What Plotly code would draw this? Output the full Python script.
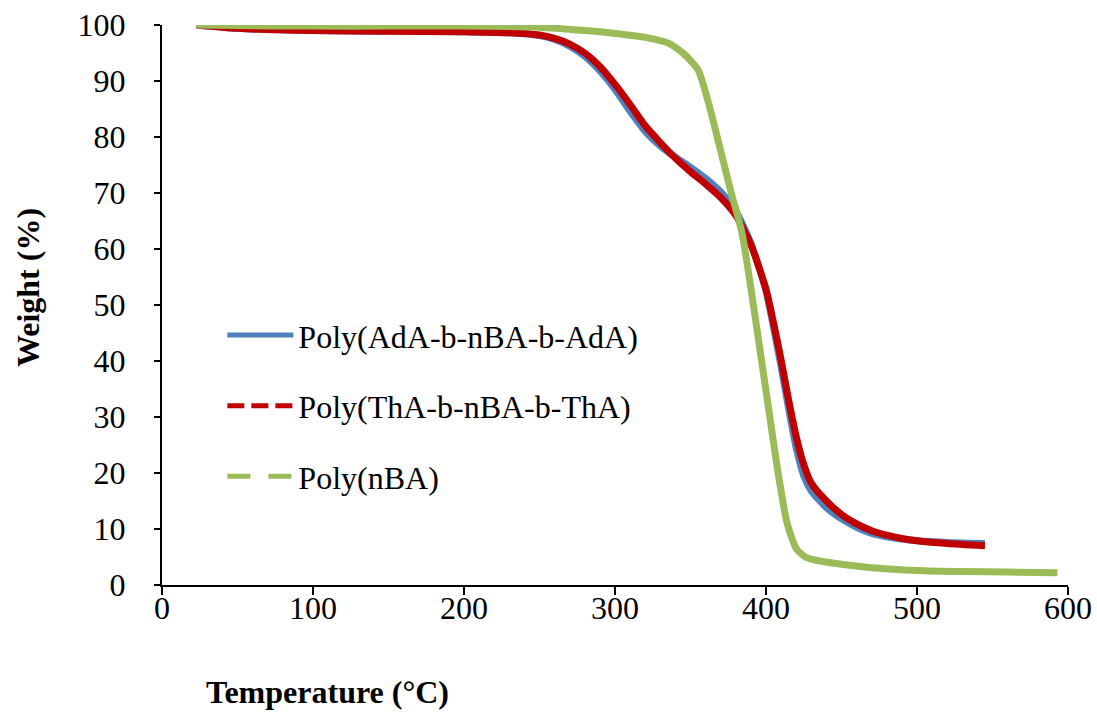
import plotly.graph_objects as go

# ---- data ----
temp_block = [23, 50, 100, 150, 200, 230, 250, 260, 270, 280, 290, 300, 310, 320, 330, 340,
              350, 360, 370, 380, 390, 400, 405, 410, 415, 420, 425, 430, 440, 450, 460,
              470, 480, 490, 500, 520, 545]
weight_ada = [100, 99.4, 99.0, 98.9, 98.8, 98.6, 98.1, 97.4, 96.2, 94.4, 91.8, 88.5, 84.6, 81.0,
              78.4, 76.4, 74.6, 72.6, 70.2, 66.8, 61.0, 52.5, 46.0, 39.0, 31.5, 24.5, 19.5,
              16.8, 13.8, 11.8, 10.3, 9.2, 8.6, 8.2, 7.9, 7.6, 7.4]
weight_tha = [100, 99.4, 99.0, 98.9, 98.8, 98.6, 98.2, 97.6, 96.6, 95.0, 92.6, 89.4, 85.8, 82.0,
              79.0, 76.2, 73.8, 71.6, 69.2, 66.0, 60.8, 52.8, 46.8, 40.2, 33.0, 26.5, 21.5,
              18.2, 15.0, 12.6, 10.9, 9.7, 8.9, 8.3, 7.9, 7.4, 7.0]

temp_nba = [23, 50, 100, 150, 200, 250, 280, 300, 320, 335, 345, 355, 362, 370, 377, 384, 390,
            396, 402, 408, 414, 420, 426, 432, 440, 450, 470, 500, 530, 560, 593]
weight_nba = [100, 99.9, 99.8, 99.8, 99.8, 99.6, 99.0, 98.5, 97.8, 96.8, 95.0, 92.0, 86.0, 77.5,
              70.0, 63.0, 53.0, 42.0, 31.0, 20.0, 11.0, 6.5, 5.0, 4.5, 4.1, 3.7, 3.1, 2.6,
              2.4, 2.3, 2.2]

names = ["Poly(AdA-b-nBA-b-AdA)", "Poly(ThA-b-nBA-b-ThA)", "Poly(nBA)"]
colors = ["#4F81BD", "#C00000", "#9BBB59"]
legend_dash = ["solid", "17px,7px", "23px,18px"]

x_ticks = [0, 100, 200, 300, 400, 500, 600]
y_ticks = [0, 10, 20, 30, 40, 50, 60, 70, 80, 90, 100]

series = [(temp_block, weight_ada), (temp_block, weight_tha), (temp_nba, weight_nba)]

fig = go.Figure()
for i, (xs, ys) in enumerate(series):
    fig.add_trace(go.Scatter(
        x=xs, y=ys, mode="lines", name=names[i], showlegend=False,
        line=dict(color=colors[i], width=7, shape="spline", smoothing=0.6),
        hoverinfo="skip"))
for i in range(3):
    fig.add_trace(go.Scatter(
        x=[None], y=[None], mode="lines", name=names[i], legendgroup=str(i),
        line=dict(color=colors[i], width=5, dash=legend_dash[i])))

font_family = "Liberation Serif, Times New Roman, serif"
FS = 32
fig.update_layout(
    width=1097, height=715,
    margin=dict(l=162, r=29, t=25, b=130, autoexpand=False),
    paper_bgcolor="white", plot_bgcolor="white",
    font=dict(family=font_family, size=FS, color="black"),
    showlegend=True,
    legend=dict(x=0.0666, y=0.495, xanchor="left", yanchor="top",
                font=dict(size=FS, family=font_family), tracegroupgap=26,
                bgcolor="rgba(0,0,0,0)", itemwidth=66),
    xaxis=dict(range=[0, 600], tickvals=x_ticks, showgrid=False, zeroline=False,
               showline=True, linecolor="black", linewidth=2,
               ticks="outside", ticklen=8, tickwidth=2, tickcolor="black",
               tickfont=dict(size=FS), ticklabelstandoff=-14,
               ticklabeloverflow="allow", automargin=False),
    yaxis=dict(range=[0, 100], tickvals=y_ticks, showgrid=False, zeroline=False,
               showline=True, linecolor="black", linewidth=2,
               ticks="outside", ticklen=6, tickwidth=2, tickcolor="black",
               tickfont=dict(size=FS), ticklabelstandoff=22,
               ticklabeloverflow="allow", automargin=False),
    annotations=[
        dict(text="<b>Temperature (°C)</b>", xref="paper", yref="paper",
             x=(327 - 162) / 906, y=-(692 - 585) / 560, xanchor="center", yanchor="middle",
             showarrow=False, font=dict(size=FS, family=font_family)),
        dict(text="<b>Weight (%)</b>", xref="paper", yref="paper", textangle=-90,
             x=-(162 - 28) / 906, y=(585 - 288) / 560, xanchor="center", yanchor="middle",
             showarrow=False, font=dict(size=FS, family=font_family)),
    ],
)

# remove the default 8px page margin so the 1097x715 figure fills the window exactly
fig.write_html("out.html",
               config={"displayModeBar": False},
               post_script="document.body.style.margin='0';document.body.style.overflow='hidden';")
